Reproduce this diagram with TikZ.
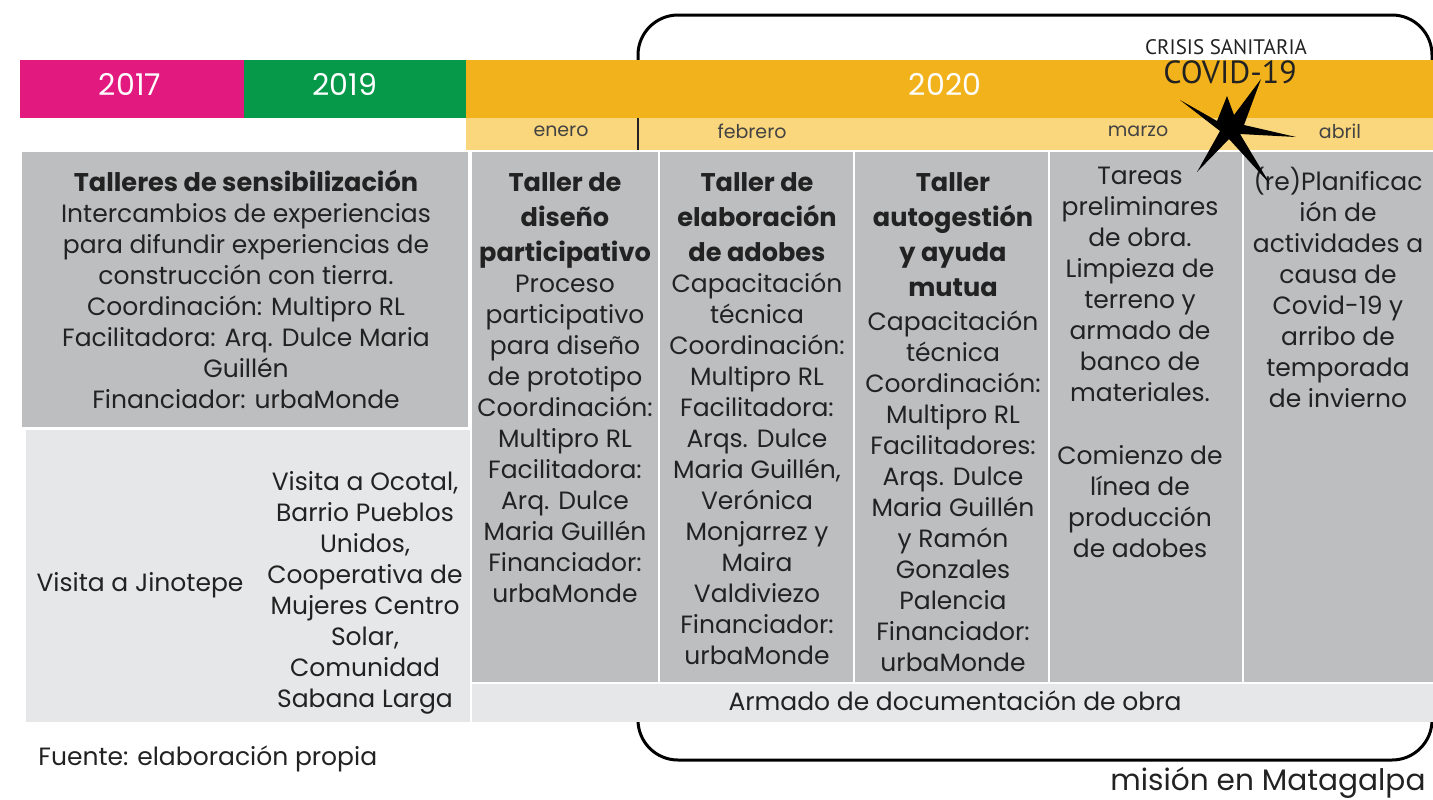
\documentclass[tikz,border=0pt]{standalone}
\usepackage{fontspec}
\setmainfont{Poppins}
\newfontfamily\narrowfont{PT Sans}
\definecolor{magentaY}{HTML}{E2197F}
\definecolor{greenY}{HTML}{06994A}
\definecolor{orangeY}{HTML}{F2B21B}
\definecolor{monthY}{HTML}{FAD67C}
\definecolor{cellG}{HTML}{BDBEC0}
\definecolor{lightG}{HTML}{E6E7E8}
\definecolor{txt}{HTML}{222222}
\newcommand\bodyfs{\fontsize{12.5}{15.5}\selectfont}
\newcommand\hd[1]{{\fontsize{12.8}{15.5}\selectfont\textbf{#1}}}
\tikzset{
  cell/.style={anchor=north, align=center, font=\bodyfs, text=txt, inner sep=0pt},
  yearlbl/.style={text=white, font=\fontsize{15}{16}\selectfont, inner sep=0pt},
  monthlbl/.style={text=txt!85, font=\fontsize{9.5}{10}\selectfont, inner sep=0pt},
}
\begin{document}
\begin{tikzpicture}[x=0.5pt,y=-0.5pt]
\useasboundingbox (0,0) rectangle (1433,799);
% covid frame
\draw[line width=1.5pt, rounded corners=20pt] (638,15) rectangle (1432,760);
% year bars
\fill[magentaY] (20,60) rectangle (244,118);
\fill[greenY] (244,60) rectangle (466,118);
\fill[orangeY] (466,60) rectangle (1433,118);
\fill[monthY] (466,118) rectangle (1433,150);
\draw[line width=1pt, txt] (638,118) -- (638,150);
\node[yearlbl] (y17) at (130,84) {2017};
\node[yearlbl] (y19) at (345,84) {2019};
\node[yearlbl] (y20) at (945,84) {2020};
\node[monthlbl] (m1) at (561,131) {enero};
\node[monthlbl] (m2) at (752,131) {febrero};
\node[monthlbl] (m3) at (1138,131) {marzo};
\node[monthlbl] (m4) at (1340,131) {abril};
% cells
\fill[white] (466,150) rectangle (1433,152);
\fill[cellG] (22,152) rectangle (468,427);
\fill[lightG] (26,430) rectangle (470,722);
\fill[cellG] (472,152) rectangle (658,682);
\fill[cellG] (660,152) rectangle (853,682);
\fill[cellG] (855,152) rectangle (1048,682);
\fill[cellG] (1050,152) rectangle (1242,682);
\fill[cellG] (1244,152) rectangle (1433,682);
\fill[white] (472,682) rectangle (1433,684);
\fill[lightG] (472,684) rectangle (1433,722);
% texts
\node[cell] (t0) at (246,170) {\hd{Talleres de sensibilización}\\
Intercambios de experiencias\\ para difundir experiencias de\\ construcción con tierra.\\
Coordinación: Multipro RL\\ Facilitadora: Arq. Dulce Maria\\ Guillén\\ Financiador: urbaMonde};
\node[cell, anchor=center] (v1) at (140,585) {Visita a Jinotepe};
\node[cell, anchor=center] (v2) at (365,593) {Visita a Ocotal,\\ Barrio Pueblos\\ Unidos,\\ Cooperativa de\\ Mujeres Centro\\ Solar,\\ Comunidad\\ Sabana Larga};
\node[cell] (c1) at (565,172) {\hd{Taller de}\\[2pt] \hd{diseño}\\[2pt] \hd{participativo}\\
Proceso\\ participativo\\ para diseño\\ de prototipo\\ Coordinación:\\ Multipro RL\\ Facilitadora:\\ Arq. Dulce\\ Maria Guillén\\ Financiador:\\ urbaMonde};
\node[cell] (c2) at (757,172) {\hd{Taller de}\\[2pt] \hd{elaboración}\\[2pt] \hd{de adobes}\\
Capacitación\\ técnica\\ Coordinación:\\ Multipro RL\\ Facilitadora:\\ Arqs. Dulce\\ Maria Guillén,\\ Verónica\\ Monjarrez y\\ Maira\\ Valdiviezo\\ Financiador:\\ urbaMonde};
\node[cell] (c3) at (953,172) {\hd{Taller}\\[2pt] \hd{autogestión}\\[2pt] \hd{y ayuda}\\[2pt] \hd{mutua}\\[1.5pt]
Capacitación\\ técnica\\ Coordinación:\\ Multipro RL\\ Facilitadores:\\ Arqs. Dulce\\ Maria Guillén\\ y Ramón\\ Gonzales\\ Palencia\\ Financiador:\\ urbaMonde};
\node[cell] (c4) at (1140,167) {Tareas\\ preliminares\\ de obra.\\ Limpieza de\\ terreno y\\ armado de\\ banco de\\ materiales.\\[16pt]
Comienzo de\\ línea de\\ producción\\ de adobes};
\node[cell] (c5) at (1338,167) {(re)Planificac\\ ión de\\ actividades a\\ causa de\\ Covid-19 y\\ arribo de\\ temporada\\ de invierno};
\node[cell, anchor=center] (doc) at (955,701) {Armado de documentación de obra};
% covid label and star
\node[text=txt, font=\narrowfont\fontsize{10.5}{11}\selectfont, inner sep=0pt] (crisis) at (1226,47) {CRISIS SANITARIA};
\node[text=txt, font=\narrowfont\fontsize{16}{17}\selectfont, inner sep=0pt] (covid) at (1230,72) {COVID-19};
\fill[black] (1180,100) -- (1217,121) -- (1227,96) -- (1234,115) -- (1261,79) -- (1244,125)
  -- (1296,137) -- (1240,134) -- (1270,184) -- (1229,139) -- (1197,172) -- (1220,131) -- cycle;
% footnotes
\node[cell, anchor=west] (src) at (38,759) {Fuente: elaboración propia};
\node[text=txt, anchor=west, inner sep=0pt, font=\fontsize{14.8}{16}\selectfont] (mis) at (1110,783) {misión en Matagalpa};
\end{tikzpicture}
\end{document}
